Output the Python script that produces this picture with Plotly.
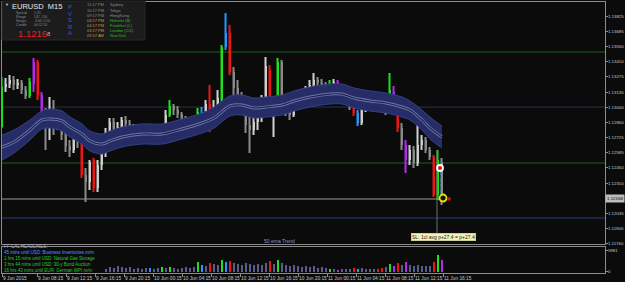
import plotly.graph_objects as go

W, H = 625, 282

# ---------------- data (EURUSD M15) ----------------
opens = [1.12819, 1.13182, 1.13209, 1.13245, 1.13200, 1.13218, 1.13155, 1.13100, 1.13209, 1.13408,
         1.13109, 1.12973, 1.12838, 1.12901, 1.12838, 1.12910, 1.12747, 1.12647, 1.12611, 1.12720,
         1.12683, 1.12385, 1.12321, 1.12520, 1.12267, 1.12475, 1.12611, 1.12774, 1.12865, 1.12765,
         1.12819, 1.12883, 1.12847, 1.12792, 1.12810, 1.12765, 1.12792, 1.12756, 1.12738, 1.12747,
         1.12729, 1.12819, 1.12928, 1.13010, 1.12973, 1.12937, 1.12892, 1.12847, 1.12828, 1.12838,
         1.12955, 1.12919, 1.13028, 1.12828, 1.13010, 1.13064, 1.13544, 1.13671, 1.13318, 1.13173,
         1.13082, 1.13010, 1.12838, 1.12792, 1.12865, 1.12901, 1.13082, 1.13336, 1.13001, 1.13037,
         1.13408, 1.13064, 1.12955, 1.12928, 1.13091, 1.13109, 1.13127, 1.13155, 1.13200, 1.13245,
         1.13218, 1.13191, 1.13173, 1.13209, 1.13227, 1.13155, 1.13100, 1.13064, 1.13010, 1.12946,
         1.12856, 1.12992, 1.13019, 1.13046, 1.13082, 1.13028, 1.12992, 1.12973, 1.13137, 1.13064,
         1.12810, 1.12656, 1.12520, 1.12611, 1.12493, 1.12656, 1.12702, 1.12611, 1.12548, 1.12203,
         1.12502]
highs = [1.13272, 1.13263, 1.13290, 1.13281, 1.13254, 1.13245, 1.13191, 1.13263, 1.13445, 1.13426,
         1.13137, 1.12992, 1.13091, 1.13064, 1.12955, 1.12937, 1.12792, 1.12702, 1.12792, 1.12774,
         1.12702, 1.12448, 1.12520, 1.12539, 1.12520, 1.12656, 1.12810, 1.12901, 1.12901, 1.12865,
         1.12910, 1.12919, 1.12883, 1.12847, 1.12838, 1.12819, 1.12810, 1.12783, 1.12774, 1.12765,
         1.12838, 1.12973, 1.13064, 1.13028, 1.13010, 1.12955, 1.12919, 1.12883, 1.12892, 1.12992,
         1.13001, 1.13064, 1.13200, 1.13064, 1.13155, 1.13562, 1.13852, 1.13744, 1.13363, 1.13245,
         1.13137, 1.13028, 1.12928, 1.12910, 1.12955, 1.13109, 1.13454, 1.13381, 1.13064, 1.13445,
         1.13426, 1.13100, 1.13010, 1.13137, 1.13155, 1.13164, 1.13191, 1.13245, 1.13309, 1.13272,
         1.13254, 1.13227, 1.13245, 1.13254, 1.13245, 1.13173, 1.13137, 1.13082, 1.13037, 1.12973,
         1.13019, 1.13055, 1.13082, 1.13100, 1.13100, 1.13064, 1.13028, 1.13309, 1.13191, 1.13082,
         1.12856, 1.12702, 1.12656, 1.12647, 1.12838, 1.12747, 1.12729, 1.12638, 1.12566, 1.12611,
         1.12539]
lows = [1.12810, 1.13137, 1.13173, 1.13155, 1.13164, 1.13118, 1.13073, 1.13082, 1.13137, 1.13064,
        1.12955, 1.12611, 1.12702, 1.12747, 1.12792, 1.12702, 1.12593, 1.12548, 1.12584, 1.12629,
        1.12357, 1.12140, 1.12249, 1.12230, 1.12230, 1.12430, 1.12548, 1.12702, 1.12638, 1.12702,
        1.12774, 1.12792, 1.12738, 1.12747, 1.12729, 1.12738, 1.12720, 1.12711, 1.12711, 1.12702,
        1.12720, 1.12801, 1.12910, 1.12928, 1.12901, 1.12847, 1.12810, 1.12792, 1.12783, 1.12756,
        1.12883, 1.12856, 1.12774, 1.12810, 1.12946, 1.12973, 1.13517, 1.13290, 1.13109, 1.13019,
        1.12946, 1.12765, 1.12584, 1.12747, 1.12792, 1.12865, 1.13064, 1.12973, 1.12729, 1.13010,
        1.12992, 1.12919, 1.12883, 1.12910, 1.13055, 1.13073, 1.13100, 1.13137, 1.13173, 1.13182,
        1.13155, 1.13137, 1.13155, 1.13182, 1.13137, 1.13064, 1.13037, 1.12973, 1.12919, 1.12828,
        1.12838, 1.12955, 1.12992, 1.13010, 1.12982, 1.12955, 1.12928, 1.12955, 1.13064, 1.12774,
        1.12611, 1.12403, 1.12475, 1.12448, 1.12466, 1.12611, 1.12584, 1.12520, 1.12185, 1.12158,
        1.12113]
closes = [1.13182, 1.13209, 1.13245, 1.13200, 1.13218, 1.13155, 1.13100, 1.13227, 1.13408, 1.13109,
          1.12973, 1.12838, 1.12901, 1.12838, 1.12910, 1.12747, 1.12647, 1.12611, 1.12720, 1.12683,
          1.12385, 1.12321, 1.12502, 1.12267, 1.12475, 1.12611, 1.12774, 1.12865, 1.12765, 1.12819,
          1.12883, 1.12847, 1.12792, 1.12810, 1.12765, 1.12792, 1.12756, 1.12738, 1.12747, 1.12729,
          1.12819, 1.12928, 1.13010, 1.12973, 1.12937, 1.12892, 1.12847, 1.12828, 1.12856, 1.12955,
          1.12919, 1.13028, 1.12828, 1.13010, 1.13082, 1.13544, 1.13671, 1.13318, 1.13173, 1.13082,
          1.13010, 1.12838, 1.12792, 1.12865, 1.12901, 1.13082, 1.13372, 1.13001, 1.13037, 1.13408,
          1.13064, 1.12955, 1.12928, 1.13091, 1.13109, 1.13127, 1.13155, 1.13200, 1.13245, 1.13218,
          1.13191, 1.13173, 1.13209, 1.13227, 1.13155, 1.13100, 1.13064, 1.13010, 1.12946, 1.12856,
          1.12992, 1.13019, 1.13046, 1.13064, 1.13010, 1.12992, 1.12973, 1.13155, 1.13109, 1.12810,
          1.12656, 1.12520, 1.12611, 1.12493, 1.12656, 1.12702, 1.12611, 1.12548, 1.12203, 1.12520,
          1.12167]
# PVSRA candle classes: n normal, g green, r red, b blue, p purple
candle_codes = list("g" "nnnnnn" "gprp" "nnnnnnnnn" "r" "nn" "r" "nnnnnnnnnnnnn" "b" "nn" "g" "n" "g"
                    "nnnnnn" "gb" "n" "r" "nn" "gbr" "nnnnnnnnn" "r" "n" "g" "nnnnnnnnnnnn" "g" "n" "p"
                    "nnn" "rb" "nnnn" "rr" "n" "gpr" "n" "p" "nnnnnn" "rg" "n")
volume_codes = candle_codes[:-1] + ["p"]
volumes = [None] * 26 + [
    860, 1430, 1140, 1710, 1430, 1140, 1430, 860, 1140, 860,
    1140, 1140, 860, 1140, 1430, 1140, 1430, 1140, 860, 1140,
    1430, 1140, 1430, 2850, 2000, 1710, 2570, 2280, 2000, 3420,
    2850, 3140, 2570, 2280, 2000, 2570, 2280, 2000, 2280, 2000,
    2570, 3140, 2280, 3420, 2570, 2000, 1710, 2000, 1710, 1430,
    1710, 1430, 1710, 1140, 1430, 1140, 860, 860, 570, 860,
    860, 860, 1140, 860, 1140, 860, 860, 860, 860, 1140,
    1430, 2280, 1710, 2570, 2000, 2850, 2000, 1710, 2000, 1710,
    1710, 1710, 2850, 4850, 3420]

# "50 ema Trend" ribbon
band_idx = [0, 3, 7, 10, 12, 15, 17, 20, 22, 25, 27, 30, 35, 40, 45, 50, 53, 57, 60, 63, 66, 70,
            73, 77, 82, 85, 88, 92, 96, 100, 102, 105, 107, 110]
band_upper = [1.12747, 1.12792, 1.12883, 1.12964, 1.12982, 1.12964, 1.12910, 1.12847, 1.12783, 1.12756,
              1.12783, 1.12819, 1.12847, 1.12847, 1.12892, 1.12946, 1.13001, 1.13100, 1.13109, 1.13082,
              1.13091, 1.13109, 1.13146, 1.13182, 1.13209, 1.13209, 1.13173, 1.13146, 1.13127, 1.13091,
              1.13055, 1.12973, 1.12910, 1.12828]
band_lower = [1.12520, 1.12584, 1.12702, 1.12801, 1.12810, 1.12783, 1.12729, 1.12665, 1.12602, 1.12575,
              1.12602, 1.12638, 1.12665, 1.12665, 1.12711, 1.12765, 1.12810, 1.12919, 1.12928, 1.12901,
              1.12910, 1.12928, 1.12964, 1.13001, 1.13028, 1.13028, 1.12992, 1.12964, 1.12946, 1.12910,
              1.12883, 1.12792, 1.12711, 1.12629]
band_mid = [1.12638, 1.12683, 1.12792, 1.12883, 1.12892, 1.12874, 1.12819, 1.12756, 1.12693, 1.12665,
            1.12693, 1.12729, 1.12756, 1.12756, 1.12801, 1.12856, 1.12901, 1.13010, 1.13019, 1.12992,
            1.13001, 1.13019, 1.13055, 1.13091, 1.13118, 1.13118, 1.13082, 1.13055, 1.13037, 1.13001,
            1.12973, 1.12883, 1.12810, 1.12729]

price_ticks = [1.13825, 1.13685, 1.13550, 1.13410, 1.13275, 1.13135, 1.13000, 1.12860, 1.12725,
               1.12585, 1.12450, 1.12310, 1.12035, 1.11900, 1.11760]
price_tick_text = ["1.13825", "1.13685", "1.13550", "1.13410", "1.13275", "1.13135", "1.13000",
                   "1.12860", "1.12725", "1.12585", "1.12450", "1.12310", "1.12035", "1.11900", "1.11760"]
time_tick_idx = [0, 8.75, 16, 23.25, 30.5, 37.75, 45, 52.25, 59.5, 66.75, 74, 81.25, 88.5, 95.75, 103, 110.25]
time_tick_text = ["9 Jun 2015", "9 Jun 08:15", "9 Jun 12:15", "9 Jun 16:15", "9 Jun 20:15",
                  "10 Jun 00:15", "10 Jun 04:15", "10 Jun 08:15", "10 Jun 12:15", "10 Jun 16:15",
                  "10 Jun 20:15", "11 Jun 00:15", "11 Jun 04:15", "11 Jun 08:15", "11 Jun 12:15",
                  "11 Jun 16:15"]
current_price = 1.12168
hlines = [(1.13499, "#1f5f1f"), (1.13000, "#27324a"), (1.12493, "#1f5f1f"), (1.11995, "#25407a")]
level_line = 1.12167
entry_price = 1.12448
vol_max_label = 5981

# ---------------- helpers ----------------
def fx(px):
    return px / W

def fy(py):
    return 1 - py / H

FONT = "Liberation Sans"
BG = "#0b0b0b"
PV = {"g": "#1ee01e", "r": "#f01414", "b": "#2496ff", "p": "#b428f0"}

n = len(closes)
idx = list(range(n))
ccol = []
for i in range(n):
    c = candle_codes[i]
    if c == "n":
        ccol.append("#cfcfcf" if closes[i] >= opens[i] else "#8a8a8a")
    else:
        ccol.append(PV[c])
vcol = [PV.get(c, "#5b5b8c") for c in volume_codes]

fig = go.Figure()

# ribbon
fig.add_trace(go.Scatter(x=band_idx, y=band_upper, mode="lines", line=dict(color="#34408a", width=1, shape="spline"),
                         hoverinfo="skip", showlegend=False))
fig.add_trace(go.Scatter(x=band_idx, y=band_lower, mode="lines", line=dict(color="#34408a", width=1, shape="spline"),
                         fill="tonexty", fillcolor="#262d66", hoverinfo="skip", showlegend=False))
fig.add_trace(go.Scatter(x=band_idx, y=band_mid, mode="lines", line=dict(color="#6d76aa", width=3, shape="spline"),
                         hoverinfo="skip", showlegend=False))
fig.add_trace(go.Scatter(x=band_idx, y=band_mid, mode="lines", line=dict(color="#1d2256", width=1.2, shape="spline"),
                         hoverinfo="skip", showlegend=False))

# candles
fig.add_trace(go.Bar(x=idx, y=[h - l for h, l in zip(highs, lows)], base=lows, width=0.26,
                     marker=dict(color=ccol, line=dict(width=0)), hoverinfo="skip", showlegend=False))
fig.add_trace(go.Bar(x=idx, y=[max(abs(c - o), 0.00004) for o, c in zip(opens, closes)],
                     base=[min(o, c) for o, c in zip(opens, closes)], width=0.5,
                     marker=dict(color=ccol, line=dict(width=0)), hoverinfo="skip", showlegend=False))

# trade markers
fig.add_trace(go.Scatter(x=[108.75, 108.75], y=[1.12611, 1.11859], mode="lines",
                         line=dict(color="#6e6e6e", width=1), hoverinfo="skip", showlegend=False))
fig.add_trace(go.Scatter(x=[109.75, 109.75], y=[1.12412, 1.12203], mode="lines",
                         line=dict(color="#3c90d8", width=1, dash="dot"), hoverinfo="skip", showlegend=False))
fig.add_trace(go.Scatter(x=[109.5], y=[entry_price], mode="markers",
                         marker=dict(symbol="circle", size=6, color="#d02020", line=dict(color="#ffffff", width=1.8)),
                         hoverinfo="skip", showlegend=False))
fig.add_trace(go.Scatter(x=[110.25], y=[1.12176], mode="markers",
                         marker=dict(symbol="circle", size=7, color="#111111", line=dict(color="#e8e000", width=1.8)),
                         hoverinfo="skip", showlegend=False))
fig.add_trace(go.Scatter(x=[111.75], y=[1.12167], mode="markers",
                         marker=dict(symbol="square", size=3, color="#e01010"), hoverinfo="skip", showlegend=False))

# volume histogram
fig.add_trace(go.Bar(x=idx, y=volumes, width=0.5, marker=dict(color=vcol, line=dict(width=0)),
                     xaxis="x2", yaxis="y2", hoverinfo="skip", showlegend=False))

shapes = []
for p, col in hlines:
    shapes.append(dict(type="line", xref="x domain", yref="y", x0=0, x1=1, y0=p, y1=p,
                       line=dict(color=col, width=1), layer="below"))
shapes.append(dict(type="line", xref="x", yref="y", x0=-0.125, x1=109.5, y0=level_line, y1=level_line,
                   line=dict(color="#9a9a9a", width=1), layer="below"))
# info panel
shapes.append(dict(type="rect", xref="paper", yref="paper", x0=fx(2), x1=fx(145), y0=fy(40), y1=fy(1),
                   fillcolor="#1c1c1c", line=dict(color="#262626", width=1), layer="above"))

ann = []
def txt(x, y, s, size, color, anchor="left", **kw):
    ann.append(dict(x=fx(x), y=fy(y), xref="paper", yref="paper", text=s, showarrow=False,
                    xanchor=anchor, yanchor="middle", font=dict(family=FONT, size=size, color=color), **kw))

txt(3, 5, "▼", 4, "#cfcfcf")
txt(10, 7, "EURUSD  M15", 7.5, "#e8e8e8")
for k, (lab, val) in enumerate([("Spread", "1.20"), ("Range", "147, 150"), ("Swaps", "-3.00, 0.50"),
                                ("Candle", "00:12:20")]):
    txt(14, 12.7 + 4.1 * k, lab, 3.4, "#8c8c8c")
    txt(32, 12.7 + 4.1 * k, val, 3.4, "#8c8c8c")
txt(16, 33, "1.1216", 9.5, "#f01c1c")
txt(45, 34, "8", 6, "#b8b8b8")
for k, ch in enumerate("PVSRA"):
    txt(70, 7 + 6.6 * k, ch, 5.8, "#3a5ad8", anchor="center")
sessions = [("11:17 PM", "Sydney"), ("10:17 PM", "Tokyo"), ("09:17 PM", "HongKong"),
            ("04:17 PM", "Helsinki (B)"), ("04:17 PM", "Frankfurt (L)"), ("03:17 PM", "London (Ct1)"),
            ("09:17 AM", "NewYork")]
for k, (t, nm) in enumerate(sessions):
    yy = 5 + 5.1 * k
    txt(85, yy, t, 4, "#8c8c8c" if k < 3 else "#c89a3c")
    txt(108, yy, nm, 4, "#8c8c8c" if k < 3 else "#2eb82e")

news = [("FF-CAL HEADLINES:", "#a8b0c0"), ("45 mins until USD: Business Inventories m/m", "#4a9cff"),
        ("1 hrs 15 mins until USD: Natural Gas Storage", "#2ec82e"),
        ("3 hrs 44 mins until USD: 30-y Bond Auction", "#2ec82e"),
        ("16 hrs 43 mins until EUR: German WPI m/m", "#2ec82e")]
for k, (s, c) in enumerate(news):
    txt(2, 246.4 + 5.9 * k, s, 4.5, c)

txt(279, 241.3, "50 ema Trend", 5, "#8a98c8", anchor="center")
txt(443, 236.5, "SL: 1cl avg p+27.4 = p+27.4", 5, "#202020", anchor="center",
    bgcolor="#f2f2b8", bordercolor="#cfcf90", borderwidth=1, borderpad=0)

ann.append(dict(x=fx(605), y=current_price, xref="paper", yref="y", text="1.12168", showarrow=False,
                xanchor="left", yanchor="middle", bgcolor="#bdbdbd", borderpad=1,
                font=dict(family=FONT, size=4.4, color="#000000")))

AX = "#8c8c8c"
TICKF = dict(family=FONT, size=4.8, color="#c8c8c8")
YTICKF = dict(family=FONT, size=4.4, color="#c8c8c8")
xr = [-0.125, 150.75]
fig.update_layout(
    width=W, height=H, margin=dict(l=0, r=0, t=0, b=0, autoexpand=False),
    paper_bgcolor=BG, plot_bgcolor=BG, barmode="overlay", showlegend=False,
    shapes=shapes, annotations=ann,
    xaxis=dict(domain=[fx(1.5), fx(605)], range=xr, anchor="y", showgrid=False, zeroline=False,
               showticklabels=False, ticks="", showline=True, mirror=True, linecolor=AX, linewidth=1,
               automargin=False),
    yaxis=dict(domain=[fy(244), fy(2)], range=[1.117594, 1.13952], anchor="x", side="right",
               showgrid=False, zeroline=False, showline=True, mirror=True, linecolor=AX, linewidth=1,
               tickmode="array", tickvals=price_ticks, ticktext=price_tick_text, ticks="outside",
               ticklen=2, tickcolor=AX, tickfont=YTICKF, ticklabelstandoff=-1, automargin=False),
    xaxis2=dict(domain=[fx(1.5), fx(605)], range=xr, anchor="y2", showgrid=False, zeroline=False,
                showline=True, mirror=True, linecolor=AX, linewidth=1, tickmode="array",
                tickvals=time_tick_idx, ticktext=time_tick_text, ticks="outside", ticklen=3,
                tickcolor=AX, tickfont=TICKF, ticklabelposition="outside right", tickangle=0,
                automargin=False),
    yaxis2=dict(domain=[fy(273), fy(247)], range=[-300, 7100], anchor="x2", side="right",
                showgrid=False, zeroline=False, showline=True, mirror=True, linecolor=AX, linewidth=1,
                tickmode="array", tickvals=[0, vol_max_label], ticktext=["0", str(vol_max_label)],
                ticks="outside", ticklen=2, tickcolor=AX, tickfont=YTICKF, ticklabelstandoff=-1,
                automargin=False),
)

fig.write_html("out.html")
